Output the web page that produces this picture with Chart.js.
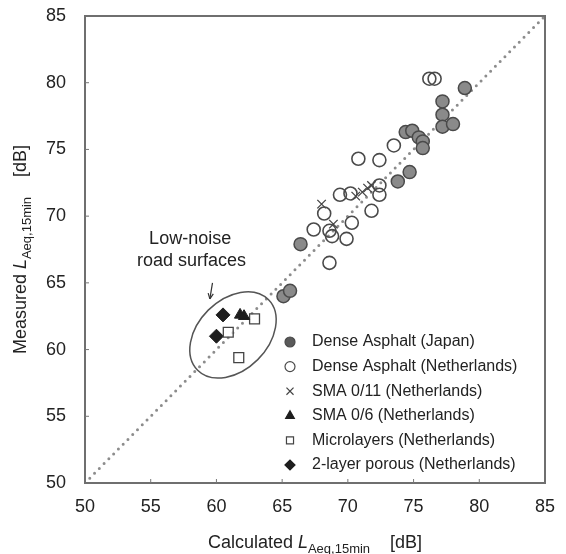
<!DOCTYPE html>
<html>
<head>
<meta charset="utf-8">
<script src="https://cdn.jsdelivr.net/npm/chart.js@4"></script>
<style>
  body { margin: 0; background: #fff; }
  canvas { display: block; }
</style>
</head>
<body>
<canvas id="grafico" width="566" height="554"></canvas>
<script>
var japonX = [78.9, 77.2, 77.2, 77.2, 78.0, 74.4, 74.9, 75.4, 75.7, 75.7, 74.7, 73.8, 66.4, 65.1, 65.6];
var japonY = [79.6, 78.6, 77.6, 76.7, 76.9, 76.3, 76.4, 75.9, 75.6, 75.1, 73.3, 72.6, 67.9, 64.0, 64.4];

var holandaX = [76.2, 76.6, 73.5, 70.8, 72.4, 69.4, 70.2, 72.4, 72.4, 71.8, 68.2, 67.4, 68.6, 68.8, 69.9, 70.3, 68.6];
var holandaY = [80.3, 80.3, 75.3, 74.3, 74.2, 71.6, 71.7, 72.3, 71.6, 70.4, 70.2, 69.0, 68.9, 68.5, 68.3, 69.5, 66.5];

var sma11X = [68.0, 68.9, 70.6, 71.1, 71.5, 71.8];
var sma11Y = [70.9, 69.4, 71.5, 71.8, 72.1, 72.3];

var sma6X = [61.8, 62.1];
var sma6Y = [62.6, 62.5];

var microX = [62.9, 60.9, 61.7];
var microY = [62.3, 61.3, 59.4];

var porosoX = [60.5, 60.0];
var porosoY = [62.6, 61.0];

var lineaX = [50, 85];
var lineaY = [50, 85];

var ticksEjes = [50, 55, 60, 65, 70, 75, 80, 85];

var etiquetas = [
    'Dense Asphalt (Japan)',
    'Dense Asphalt (Netherlands)',
    'SMA 0/11 (Netherlands)',
    'SMA 0/6 (Netherlands)',
    'Microlayers (Netherlands)',
    '2-layer porous (Netherlands)'
];

var FUENTE = '"Liberation Sans", Arial, sans-serif';

function puntos(xs, ys) {
    return xs.map(function (x, i) { return { x: x, y: ys[i] }; });
}

// Título de eje con L cursiva y subíndice
function partesTitulo(palabra) {
    return [
        { t: palabra + ' ', f: '18px ' + FUENTE, dy: 0 },
        { t: 'L', f: 'italic 18px ' + FUENTE, dy: 0 },
        { t: 'Aeq,15min', f: '13px ' + FUENTE, dy: 5 },
        { t: '    [dB]', f: '18px ' + FUENTE, dy: 0 }
    ];
}

function escribirPartes(ctx, partes, cx, cy) {
    var total = 0;
    partes.forEach(function (p) { ctx.font = p.f; total += ctx.measureText(p.t).width; });
    var x = cx - total / 2;
    ctx.textAlign = 'left';
    ctx.textBaseline = 'alphabetic';
    partes.forEach(function (p) {
        ctx.font = p.f;
        ctx.fillText(p.t, x, cy + p.dy);
        x += ctx.measureText(p.t).width;
    });
}

var decoracion = {
    id: 'decoracion',
    afterDraw: function (chart) {
        var ctx = chart.ctx;
        var a = chart.chartArea;
        var sx = chart.scales.x, sy = chart.scales.y;
        ctx.save();

        // marco
        ctx.strokeStyle = '#6f6f6f';
        ctx.lineWidth = 2;
        ctx.strokeRect(a.left, a.top, a.right - a.left, a.bottom - a.top);

        // marcas hacia dentro
        ctx.lineWidth = 1;
        ctx.strokeStyle = '#777';
        ticksEjes.slice(1, -1).forEach(function (v) {
            var px = sx.getPixelForValue(v), py = sy.getPixelForValue(v);
            ctx.beginPath();
            ctx.moveTo(px, a.bottom); ctx.lineTo(px, a.bottom - 4);
            ctx.moveTo(a.left, py); ctx.lineTo(a.left + 4, py);
            ctx.stroke();
        });

        // elipse de superficies de bajo ruido
        var ex = sx.getPixelForValue(61.26), ey = sy.getPixelForValue(61.1);
        ctx.strokeStyle = '#555';
        ctx.lineWidth = 1.5;
        ctx.beginPath();
        ctx.ellipse(ex, ey, 50, 35, -Math.PI / 4, 0, Math.PI * 2);
        ctx.stroke();

        // texto y flecha
        ctx.fillStyle = '#222';
        ctx.font = '18px ' + FUENTE;
        ctx.textAlign = 'center';
        ctx.textBaseline = 'middle';
        ctx.fillText('Low-noise', sx.getPixelForValue(58.0), sy.getPixelForValue(68.3));
        ctx.fillText('road surfaces', sx.getPixelForValue(58.1), sy.getPixelForValue(66.6));
        var x1 = sx.getPixelForValue(59.7), y1 = sy.getPixelForValue(65.0);
        var x2 = sx.getPixelForValue(59.5), y2 = sy.getPixelForValue(63.8);
        ctx.strokeStyle = '#333';
        ctx.lineWidth = 1.2;
        ctx.beginPath();
        ctx.moveTo(x1, y1); ctx.lineTo(x2, y2);
        ctx.stroke();
        var ang = Math.atan2(y2 - y1, x2 - x1);
        ctx.beginPath();
        ctx.moveTo(x2, y2);
        ctx.lineTo(x2 - 6 * Math.cos(ang - 0.45), y2 - 6 * Math.sin(ang - 0.45));
        ctx.moveTo(x2, y2);
        ctx.lineTo(x2 - 6 * Math.cos(ang + 0.45), y2 - 6 * Math.sin(ang + 0.45));
        ctx.stroke();

        // leyenda
        var lx = a.left + 205, ly = a.top + 326;
        chart.data.datasets.slice(0, 6).forEach(function (ds, i) {
            var y = ly + i * 24.6;
            ctx.fillStyle = ds.legendFill || ds.pointBackgroundColor;
            ctx.strokeStyle = ds.pointBorderColor;
            Chart.helpers.drawPoint(ctx, {
                pointStyle: ds.pointStyle,
                radius: ds.legendRadius || 5,
                rotation: 0,
                borderWidth: ds.pointBorderWidth
            }, lx, y);
            ctx.fillStyle = '#222';
            ctx.font = '16px ' + FUENTE;
            ctx.textAlign = 'left';
            ctx.textBaseline = 'middle';
            ctx.fillText(ds.label, lx + 22, y);
        });

        // títulos de ejes
        ctx.fillStyle = '#222';
        escribirPartes(ctx, partesTitulo('Calculated'), (a.left + a.right) / 2, 548);
        ctx.translate(26, (a.top + a.bottom) / 2);
        ctx.rotate(-Math.PI / 2);
        escribirPartes(ctx, partesTitulo('Measured'), 0, 0);
        ctx.restore();
    }
};

var ctx = document.getElementById('grafico').getContext('2d');

var chart = new Chart(ctx, {
    type: 'scatter',
    data: {
        datasets: [
            {
                label: etiquetas[0],
                data: puntos(japonX, japonY),
                pointStyle: 'circle',
                pointRadius: 6.5,
                pointBackgroundColor: '#8a8a8a',
                legendFill: '#5a5a5a',
                pointBorderColor: '#4a4a4a',
                pointBorderWidth: 1.5
            },
            {
                label: etiquetas[1],
                data: puntos(holandaX, holandaY),
                pointStyle: 'circle',
                pointRadius: 6.5,
                pointBackgroundColor: 'rgba(255,255,255,0)',
                legendFill: '#fff',
                pointBorderColor: '#4a4a4a',
                pointBorderWidth: 1.6
            },
            {
                label: etiquetas[2],
                data: puntos(sma11X, sma11Y),
                pointStyle: 'crossRot',
                pointRadius: 6,
                pointBackgroundColor: '#333',
                pointBorderColor: '#444',
                pointBorderWidth: 1.3
            },
            {
                label: etiquetas[3],
                data: puntos(sma6X, sma6Y),
                pointStyle: 'triangle',
                pointRadius: 6.5,
                pointBackgroundColor: '#1e1e1e',
                pointBorderColor: '#1e1e1e',
                pointBorderWidth: 1
            },
            {
                label: etiquetas[4],
                data: puntos(microX, microY),
                pointStyle: 'rect',
                pointRadius: 7,
                pointBackgroundColor: 'rgba(255,255,255,0.6)',
                legendFill: '#fff',
                pointBorderColor: '#444',
                pointBorderWidth: 1.3
            },
            {
                label: etiquetas[5],
                data: puntos(porosoX, porosoY),
                pointStyle: 'rectRot',
                pointRadius: 7,
                pointBackgroundColor: '#1e1e1e',
                pointBorderColor: '#1e1e1e',
                pointBorderWidth: 1
            },
            {
                label: '1:1',
                type: 'line',
                data: puntos(lineaX, lineaY),
                borderColor: '#8c8c8c',
                borderWidth: 3,
                borderDash: [0, 6.8],
                borderCapStyle: 'round',
                pointRadius: 0,
                order: 10
            }
        ]
    },
    options: {
        responsive: false,
        animation: false,
        layout: { padding: { top: 16, right: 21, left: 0, bottom: 0 } },
        plugins: {
            legend: { display: false },
            tooltip: { enabled: false }
        },
        scales: {
            x: {
                type: 'linear',
                min: 50,
                max: 85,
                afterBuildTicks: function (s) { s.ticks = ticksEjes.map(function (v) { return { value: v }; }); },
                afterFit: function (s) { s.height = 71; s.paddingLeft = 0; s.paddingRight = 0; },
                ticks: { padding: 13, color: '#222', font: { size: 18, family: FUENTE } },
                grid: { display: false, drawTicks: false },
                border: { display: false }
            },
            y: {
                type: 'linear',
                min: 50,
                max: 85,
                afterBuildTicks: function (s) { s.ticks = ticksEjes.map(function (v) { return { value: v }; }); },
                afterFit: function (s) { s.width = 85; s.paddingTop = 0; s.paddingBottom = 0; },
                ticks: { padding: 19, color: '#222', font: { size: 18, family: FUENTE } },
                grid: { display: false, drawTicks: false },
                border: { display: false }
            }
        }
    },
    plugins: [decoracion]
});
</script>
</body>
</html>
